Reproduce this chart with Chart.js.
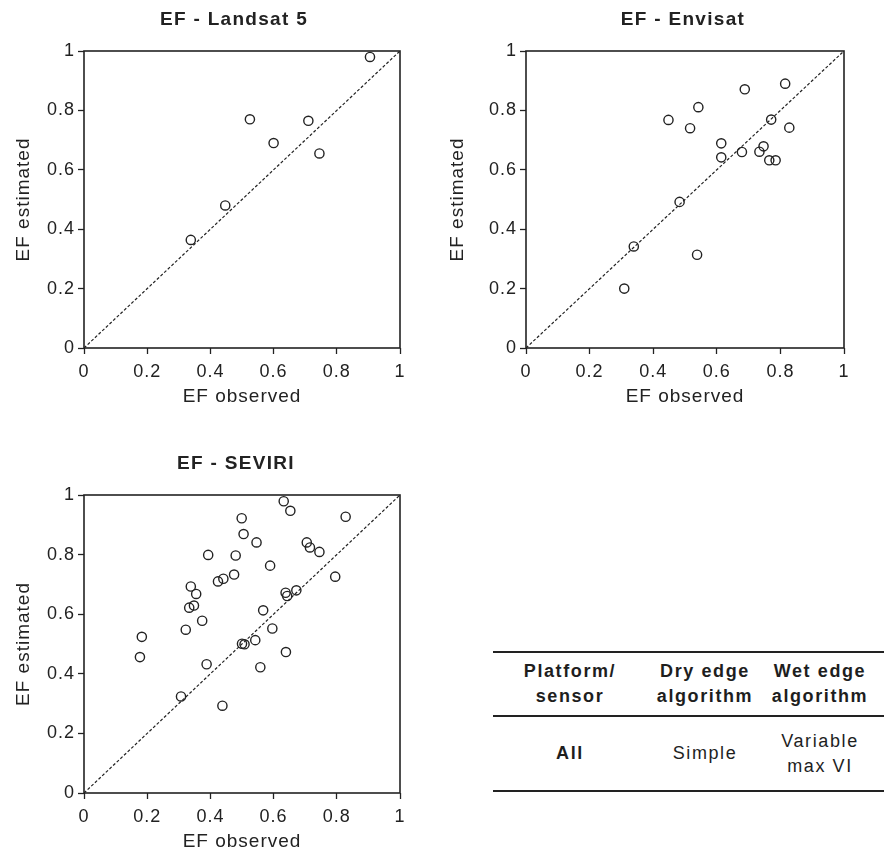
<!DOCTYPE html>
<html>
<head>
<meta charset="utf-8">
<script src="https://cdn.jsdelivr.net/npm/chart.js@4.4.1/dist/chart.umd.min.js"></script>
<style>
html, body { margin: 0; padding: 0; background: #fff; width: 884px; height: 853px; overflow: hidden; }
canvas.panel { position: absolute; }
#tbl { position: absolute; left: 493px; top: 651px; width: 391px; font-family: "Liberation Sans", Arial, Helvetica, sans-serif; color: #1e1e1e; font-size: 18px; letter-spacing: 1.6px; }
#tbl .rule { height: 2px; background: #222; }
#tbl .row { display: flex; }
#tbl .cell { display: flex; align-items: center; justify-content: center; text-align: center; line-height: 25px; }
#tbl .head .cell { font-weight: bold; }
#tbl .c1 { width: 154px; } #tbl .c2 { width: 116px; } #tbl .c3 { width: 114px; }
#tbl .b { font-weight: bold; }
</style>
</head>
<body>
<canvas id="c1" class="panel" style="left:0px;top:0px;width:430px;height:420px" width="430" height="420"></canvas>
<canvas id="c2" class="panel" style="left:440px;top:0px;width:444px;height:420px" width="444" height="420"></canvas>
<canvas id="c3" class="panel" style="left:0px;top:440px;width:430px;height:413px" width="430" height="413"></canvas>

<div id="tbl">
  <div class="rule"></div>
  <div class="row head" style="height:62px">
    <div class="cell c1" id="h1"></div>
    <div class="cell c2" id="h2"></div>
    <div class="cell c3" id="h3"></div>
  </div>
  <div class="rule"></div>
  <div class="row" style="height:73px">
    <div class="cell c1 b" id="r1"></div>
    <div class="cell c2" id="r2"></div>
    <div class="cell c3" id="r3"></div>
  </div>
  <div class="rule"></div>
</div>

<script>
// ---------------- data ----------------
const tickValues = [0, 0.2, 0.4, 0.6, 0.8, 1];
const tickLabels = ['0', '0.2', '0.4', '0.6', '0.8', '1'];
const identityLine = [0, 1];

const panelTitles = ['EF - Landsat 5', 'EF - Envisat', 'EF - SEVIRI'];
const xAxisTitle = 'EF observed';
const yAxisTitle = 'EF estimated';

const landsatObserved  = [0.905, 0.525, 0.710, 0.600, 0.745, 0.447, 0.338];
const landsatEstimated = [0.980, 0.770, 0.765, 0.690, 0.655, 0.480, 0.364];

const envisatObserved  = [0.309, 0.339, 0.483, 0.538, 0.448, 0.516, 0.542, 0.614, 0.614, 0.679, 0.688, 0.734, 0.747, 0.771, 0.765, 0.785, 0.815, 0.828];
const envisatEstimated = [0.200, 0.342, 0.492, 0.314, 0.768, 0.740, 0.811, 0.689, 0.642, 0.660, 0.871, 0.661, 0.679, 0.769, 0.632, 0.632, 0.890, 0.742];

const seviriObserved  = [0.632, 0.653, 0.499, 0.828, 0.505, 0.546, 0.705, 0.715, 0.745, 0.393, 0.480, 0.589, 0.475, 0.424, 0.441, 0.795, 0.338, 0.355, 0.638, 0.643, 0.672, 0.333, 0.348, 0.567, 0.374, 0.322, 0.596, 0.183, 0.177, 0.500, 0.508, 0.542, 0.639, 0.388, 0.558, 0.307, 0.438];
const seviriEstimated = [0.979, 0.947, 0.922, 0.927, 0.869, 0.841, 0.841, 0.824, 0.809, 0.799, 0.797, 0.763, 0.733, 0.710, 0.719, 0.726, 0.693, 0.668, 0.672, 0.661, 0.680, 0.622, 0.629, 0.613, 0.578, 0.548, 0.552, 0.524, 0.456, 0.501, 0.499, 0.513, 0.473, 0.432, 0.422, 0.324, 0.293];

const tableHeader = [['Platform/', 'sensor'], ['Dry edge', 'algorithm'], ['Wet edge', 'algorithm']];
const tableRow = [['All'], ['Simple'], ['Variable', 'max VI']];

// ---------------- table ----------------
function fillCell(id, lines) {
  const el = document.getElementById(id);
  el.innerHTML = '';
  const d = document.createElement('div');
  lines.forEach((t, i) => { if (i) d.appendChild(document.createElement('br')); d.appendChild(document.createTextNode(t)); });
  el.appendChild(d);
}
['h1', 'h2', 'h3'].forEach((id, i) => fillCell(id, tableHeader[i]));
['r1', 'r2', 'r3'].forEach((id, i) => fillCell(id, tableRow[i]));

// ---------------- charts ----------------
const FONT = '"Liberation Sans", Arial, Helvetica, sans-serif';
const INK = '#222';
const TXT = '#222';

const textSpacing = {
  id: 'textSpacing',
  beforeDraw(chart) { chart.ctx.letterSpacing = '1px'; }
};
const frame = {
  id: 'frame',
  afterDraw(chart) {
    const a = chart.chartArea, ctx = chart.ctx;
    ctx.save();
    ctx.strokeStyle = INK;
    ctx.lineWidth = 1.6;
    ctx.strokeRect(a.left, a.top, a.right - a.left, a.bottom - a.top);
    ctx.restore();
  }
};
const panelTitle = {
  id: 'panelTitle',
  afterDraw(chart, args, opts) {
    const ctx = chart.ctx;
    ctx.save();
    ctx.letterSpacing = '1.3px';
    ctx.font = 'bold 19px ' + FONT;
    ctx.fillStyle = INK;
    ctx.textAlign = 'center';
    ctx.textBaseline = 'middle';
    ctx.fillText(opts.text, opts.x, opts.y);
    ctx.restore();
  }
};

function axis(titleText, titlePad, tickPad, fit) {
  return {
    type: 'linear', min: 0, max: 1,
    afterBuildTicks: s => { s.ticks = tickValues.map(v => ({ value: v })); },
    ticks: {
      callback: v => tickLabels[tickValues.indexOf(v)],
      font: { family: FONT, size: 18 }, color: TXT, padding: tickPad
    },
    grid: { display: true, drawOnChartArea: false, drawTicks: true, tickLength: 6, tickColor: INK, tickWidth: 1.3 },
    border: { display: false },
    title: { display: true, text: titleText, font: { family: FONT, size: 19 }, color: TXT, padding: titlePad },
    afterFit: fit
  };
}

function makeChart(id, title, xs, ys, cfg) {
  const pts = xs.map((x, i) => ({ x: x, y: ys[i] }));
  const line = identityLine.map(v => ({ x: v, y: v }));
  return new Chart(document.getElementById(id), {
    type: 'scatter',
    data: {
      datasets: [
        { data: pts, pointStyle: 'circle', pointRadius: 4.6, pointBorderWidth: 1.4,
          borderColor: INK, backgroundColor: 'rgba(0,0,0,0)', pointBackgroundColor: 'rgba(0,0,0,0)' },
        { data: line, showLine: true, pointRadius: 0, borderColor: '#222', borderWidth: 1.2,
          borderDash: [3, 2], backgroundColor: 'rgba(0,0,0,0)' }
      ]
    },
    options: {
      responsive: false, animation: false, devicePixelRatio: 1, events: [],
      layout: { padding: cfg.padding },
      plugins: {
        legend: { display: false }, tooltip: { enabled: false },
        panelTitle: { text: title, x: cfg.titleX, y: cfg.titleY }
      },
      scales: {
        x: axis(xAxisTitle, { top: 0, bottom: 0 }, 7, s => { s.height = 60; }),
        y: axis(yAxisTitle, { top: cfg.yTitlePad, bottom: 0 }, 3, s => { s.width = cfg.yWidth; })
      }
    },
    plugins: [textSpacing, frame, panelTitle]
  });
}

makeChart('c1', panelTitles[0], landsatObserved, landsatEstimated,
  { padding: { left: 0, top: 51, right: 30, bottom: 12 }, yWidth: 84, yTitlePad: 12, titleX: 234, titleY: 20 });
makeChart('c2', panelTitles[1], envisatObserved, envisatEstimated,
  { padding: { left: 0, top: 51, right: 40, bottom: 12 }, yWidth: 86, yTitlePad: 6, titleX: 243, titleY: 20 });
makeChart('c3', panelTitles[2], seviriObserved, seviriEstimated,
  { padding: { left: 0, top: 55, right: 30, bottom: 0 }, yWidth: 84, yTitlePad: 12, titleX: 236, titleY: 24 });
</script>
</body>
</html>
